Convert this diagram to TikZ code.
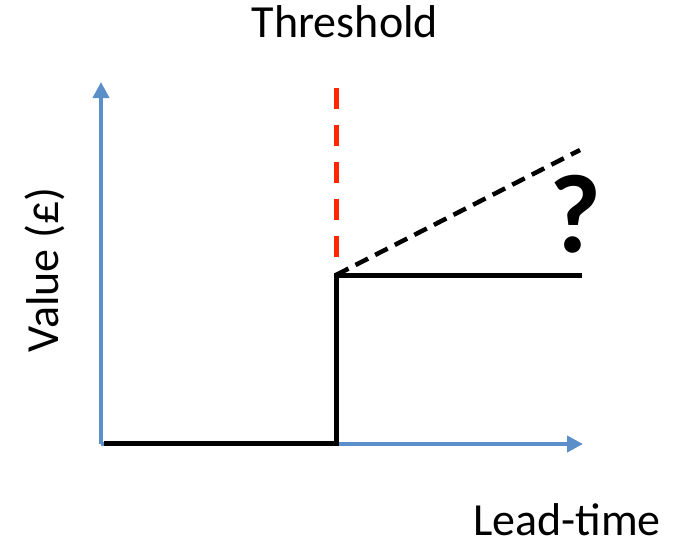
\documentclass[tikz,border=0pt]{standalone}
\usepackage{fontspec}
\setmainfont{Carlito}
\usetikzlibrary{arrows.meta}
\definecolor{axisblue}{RGB}{91,143,201}
\definecolor{threshred}{RGB}{255,38,0}

\begin{document}
\begin{tikzpicture}[x=1pt,y=-1pt,every node/.style={font=\fontsize{46}{50}\selectfont,inner sep=0pt}]
\useasboundingbox (0,0) rectangle (679,547);
% axes
\coordinate (origin) at (101,444);
\coordinate (ytip) at (101,82);
\coordinate (xtip) at (583,444);
\draw[axisblue,line width=4pt,-{Triangle[length=16pt,width=16pt]}] (origin) -- (ytip);
\draw[axisblue,line width=4pt,-{Triangle[length=16pt,width=16pt]}] (origin) -- (xtip);
% threshold
\coordinate (step) at (336,275);
\coordinate (thrtop) at (336,88);
\draw[threshred,line width=5pt,dash pattern=on 21pt off 16pt] (thrtop) -- (step);
% value curve
\coordinate (start) at (104,443);
\coordinate (stepfoot) at (336,443);
\coordinate (stepend) at (582,275);
\coordinate (dashend) at (580,150);
\draw[black,line width=5pt] (start) -- (stepfoot) -- (step) -- (stepend);
\draw[black,line width=4.5pt,dash pattern=on 14pt off 8pt] (step) -- (dashend);
% labels
\node[anchor=base] (thr) at (345,37) {Threshold};
\node[anchor=base] (lead) at (567,535) {Lead-time};
\node[anchor=base,rotate=90] (val) at (58,270) {Value (£)};
\node[anchor=base,font=\fontsize{112}{112}\selectfont\bfseries] (qm) at (575,252) {?};
\end{tikzpicture}
\end{document}
